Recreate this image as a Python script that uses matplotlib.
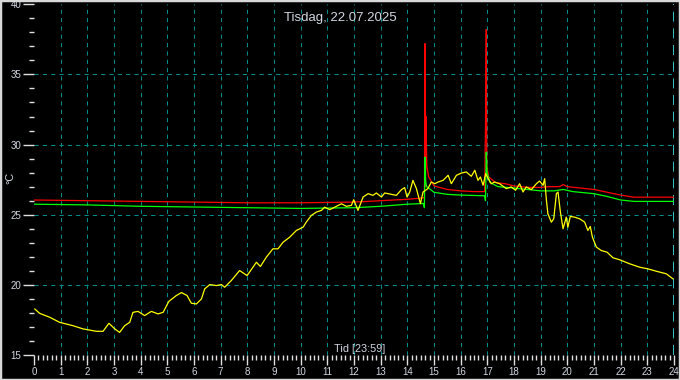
import numpy as np
from matplotlib import pyplot as plt
from matplotlib.patches import Rectangle


# Data (time in hours, temperature in °C)
red_t = [0, 2, 4, 6, 8, 10, 12, 13, 14, 14.6, 14.64, 14.66, 14.68, 14.70, 14.73,
         14.8, 15.0, 15.5, 16.0, 16.5, 16.9, 16.93, 16.96, 16.98, 17.05, 17.3,
         17.7, 18.0, 18.5, 19.0, 19.3, 19.7, 19.85, 20.0, 20.5, 21.0, 21.5,
         22.0, 22.5, 23.0, 24.0]
red_v = [26.05, 26.0, 25.95, 25.9, 25.85, 25.85, 25.9, 26.0, 26.1, 26.2, 26.2,
         37.2, 27.0, 32.0, 28.5, 27.7, 27.05, 26.8, 26.7, 26.65, 26.65, 31.2,
         38.2, 28.5, 27.7, 27.3, 27.2, 27.05, 26.95, 26.95, 27.0, 27.0, 27.15,
         27.0, 26.9, 26.8, 26.6, 26.4, 26.25, 26.25, 26.25]

green_t = [0, 2, 4, 6, 8, 10, 12, 13, 14, 14.6, 14.64, 14.66, 14.68, 14.72,
           14.8, 15.0, 15.5, 16.0, 16.9, 16.93, 16.96, 16.99, 17.1, 17.4, 18.0,
           18.5, 19.0, 19.5, 19.85, 20.2, 21.0, 21.5, 22.0, 22.5, 24.0]
green_v = [25.75, 25.7, 25.6, 25.55, 25.5, 25.45, 25.5, 25.6, 25.75, 25.8, 25.5,
           29.1, 27.5, 27.0, 26.9, 26.6, 26.45, 26.4, 26.35, 26.0, 29.45, 28.0,
           27.3, 27.0, 26.9, 26.8, 26.7, 26.7, 26.8, 26.65, 26.5, 26.3, 26.05,
           25.95, 25.95]

yellow_t = [0.03, 0.21, 0.59, 0.96, 1.46, 1.84, 2.34, 2.59, 2.81, 3.03, 3.21,
            3.40, 3.59, 3.71, 3.90, 4.15, 4.40, 4.65, 4.84, 5.06, 5.34, 5.53,
            5.74, 5.90, 6.09, 6.28, 6.40, 6.59, 6.84, 7.03, 7.15, 7.40, 7.71,
            7.99, 8.21, 8.34, 8.49, 8.71, 8.96, 9.15, 9.34, 9.59, 9.84, 10.09,
            10.21, 10.40, 10.59, 10.78, 10.90, 11.09, 11.34, 11.53, 11.71,
            11.90, 11.99, 12.15, 12.34, 12.53, 12.71, 12.84, 13.03, 13.15,
            13.40, 13.59, 13.78, 13.90, 13.99, 14.09, 14.21, 14.34, 14.49,
            14.59, 14.77, 14.90, 15.03, 15.15, 15.34, 15.53, 15.65, 15.84,
            16.03, 16.21, 16.40, 16.53, 16.65, 16.74, 16.84, 16.94, 17.03,
            17.15, 17.27, 17.46, 17.71, 17.90, 18.06, 18.21, 18.34, 18.46,
            18.65, 18.84, 18.96, 19.09, 19.15, 19.21, 19.27, 19.40, 19.49,
            19.59, 19.65, 19.74, 19.84, 19.96, 20.02, 20.11, 20.27, 20.46,
            20.65, 20.77, 20.86, 20.94, 21.09, 21.27, 21.49, 21.71, 21.96,
            22.34, 22.71, 23.02, 23.34, 23.71, 23.96]
yellow_v = [18.28, 17.97, 17.69, 17.33, 17.09, 16.86, 16.69, 16.69, 17.26, 16.86,
            16.61, 17.09, 17.33, 18.04, 18.11, 17.81, 18.11, 17.93, 18.04,
            18.83, 19.24, 19.45, 19.24, 18.69, 18.64, 19.0, 19.71, 20.02, 19.95,
            20.02, 19.83, 20.31, 21.02, 20.66, 21.26, 21.61, 21.31, 21.97,
            22.57, 22.57, 23.04, 23.40, 23.88, 24.11, 24.47, 24.95, 25.19,
            25.31, 25.54, 25.36, 25.60, 25.78, 25.60, 25.66, 26.07, 25.31,
            26.26, 26.50, 26.38, 26.55, 26.26, 26.55, 26.45, 26.38, 26.79,
            26.93, 26.26, 26.62, 27.45, 26.86, 25.79, 26.62, 26.86, 27.33,
            27.21, 27.33, 27.45, 27.81, 27.21, 27.81, 27.97, 28.05, 27.74,
            28.17, 27.45, 27.69, 27.10, 27.93, 27.57, 27.21, 27.33, 27.21,
            26.86, 26.98, 26.74, 27.21, 26.62, 26.98, 26.79, 27.21, 27.40,
            27.10, 27.57, 26.14, 25.07, 24.47, 24.71, 26.50, 26.62, 25.19,
            24.0, 24.83, 24.11, 24.88, 24.83, 24.71, 24.47, 23.88, 24.16,
            23.40, 22.69, 22.45, 22.33, 21.93, 21.79, 21.50, 21.26, 21.14,
            20.97, 20.79, 20.43]

title = "Tisdag, 22.07.2025"
xlabel = "Tid [23:59]"
ylabel = "°C"

text_col = '#d2d7e2'
grid_col = '#008b8b'

plt.rcParams['font.family'] = ['Liberation Sans', 'DejaVu Sans']

fig = plt.figure(figsize=(6.8, 3.8), dpi=100, facecolor='black')
ax = fig.add_axes([34 / 680, 1 - 355 / 380, 640 / 680, (355 - 4.3) / 380])
ax.set_facecolor('black')

# Raster
for h in range(1, 24):
    ax.axvline(h, color=grid_col, lw=0.75, ls=(0, (4, 4)), zorder=1)
ax.axvline(24, color='#3fe6e6', lw=1.2, ls=(0, (6, 4)), zorder=1)
for v in [20, 25, 30, 35]:
    ax.axhline(v, color=grid_col, lw=0.75, ls=(0, (4, 4)), zorder=1)

# Kurvor
ax.plot(red_t, red_v, color='#ff0000', lw=0.9, zorder=3)
ax.plot(green_t, green_v, color='#00ff00', lw=0.9, zorder=4)
ax.plot(yellow_t, yellow_v, color='#ffff00', lw=0.9, zorder=5)

ax.set_xlim(0, 24)
ax.set_ylim(15, 40)
for s in ax.spines.values():
    s.set_visible(False)

ax.set_xticks(range(25))
ax.set_xticks(np.arange(0, 24, 1 / 6), minor=True)
ax.set_yticks(range(15, 41, 5))
ax.set_yticks(range(15, 41), minor=True)
ax.tick_params(axis='x', which='major', length=7, width=1, color='#e0e0e0',
               labelsize=7, labelcolor=text_col, pad=1.5)
ax.tick_params(axis='x', which='minor', length=3.5, width=1, color='#e0e0e0')
ax.tick_params(axis='y', which='major', length=8, width=1, color='#e0e0e0',
               labelsize=7, labelcolor=text_col, pad=1)
ax.tick_params(axis='y', which='minor', length=3.5, width=1, color='#e0e0e0')

fig.text(340 / 680, 1 - 18 / 380, title, color=text_col, fontsize=9.5,
         ha='center', va='center')
fig.text(360 / 680, 1 - 349 / 380, xlabel, color=text_col, fontsize=7.8,
         ha='center', va='center')
fig.text(10 / 680, 1 - 178 / 380, ylabel, color=text_col, fontsize=7.8,
         ha='center', va='center', rotation=90)

fig.patches.append(Rectangle((0, 0), 1, 1, transform=fig.transFigure,
                             fill=False, edgecolor='#d8d8d8', lw=2.5))

plt.savefig('out.png', dpi=100, facecolor='black')
